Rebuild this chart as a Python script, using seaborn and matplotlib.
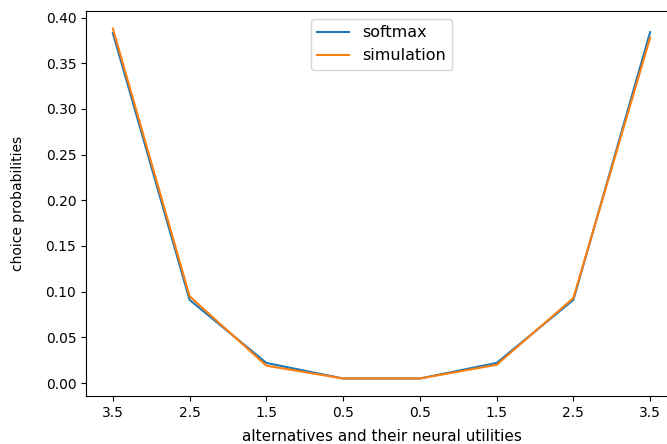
import pandas as pd
import matplotlib
matplotlib.use("Agg")
import matplotlib.pyplot as plt
import seaborn as sns

utilities = ["3.5", "2.5", "1.5", "0.5", "0.5", "1.5", "2.5", "3.5"]
softmax = [0.383, 0.091, 0.022, 0.005, 0.005, 0.022, 0.091, 0.384]
simulation = [0.388, 0.095, 0.019, 0.005, 0.005, 0.020, 0.093, 0.378]

pos = list(range(len(utilities)))
df = pd.concat([
    pd.DataFrame(dict(alt=pos, prob=softmax, kind="softmax")),
    pd.DataFrame(dict(alt=pos, prob=simulation, kind="simulation")),
])

fig = plt.figure(figsize=(6.67, 4.44), dpi=100)
ax = fig.add_axes([86 / 667, 48 / 444, 591 / 667, 385 / 444])
sns.lineplot(data=df, x="alt", y="prob", hue="kind", ax=ax)
ax.set_xticks(pos)
ax.set_xticklabels(utilities)
ax.set_xlabel("alternatives and their neural utilities", labelpad=6.5, fontsize=11)
ax.set_ylabel("choice probabilities", labelpad=15)
ax.legend(loc="upper center", fontsize=11.5)
fig.savefig("out.png", dpi=100)
